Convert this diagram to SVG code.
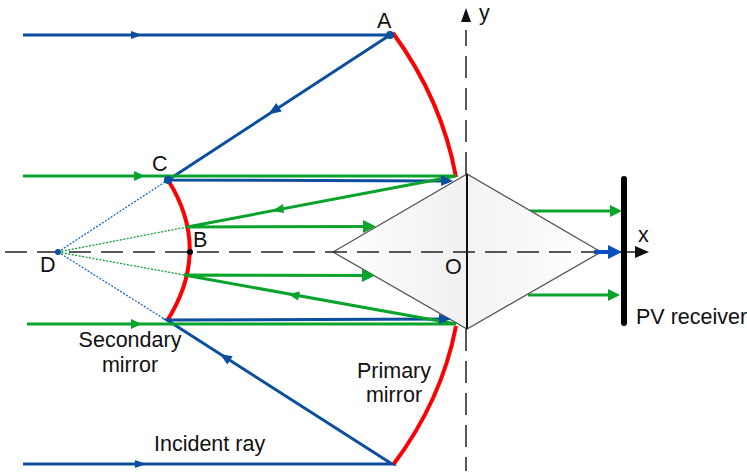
<svg xmlns="http://www.w3.org/2000/svg" width="747" height="473" viewBox="0 0 747 473">
<style>
text{font-family:"Liberation Sans",Arial,sans-serif;font-size:21.5px;fill:#111}
.axis{stroke:#222;stroke-width:1.5;fill:none;stroke-dasharray:22 10}
.blue{stroke:#0b4f9e;stroke-width:3;fill:none}
.green{stroke:#0aa32c;stroke-width:3;fill:none}
.red{stroke:#f00;stroke-width:4;fill:none}
.dotb{stroke:#1b66c4;stroke-width:1.3;stroke-dasharray:2 1.5;fill:none}
.dotg{stroke:#0aa32c;stroke-width:1.3;stroke-dasharray:2 1.5;fill:none}
.ah-b{fill:#0b4f9e}
.ah-g{fill:#0aa32c}
</style>
<defs>
<linearGradient id="lg" x1="0" x2="1" y1="0" y2="0"><stop offset="0" stop-color="#fff"/><stop offset="0.5" stop-color="#f0f0f0"/><stop offset="0.5" stop-color="#f3f3f3"/><stop offset="1" stop-color="#fff"/></linearGradient>
</defs>
<g id="primary-mirror"><path class="red" d="M393 33Q442 100 456 177"/><path class="red" d="M456 326Q442 400 393 465"/></g>
<g id="secondary-mirror"><path class="red" d="M168 180Q212 250 167 321"/></g>
<g id="connectors">
<path class="dotb" d="M58 252L168 180M58 252L166 320"/>
<path class="dotg" d="M58 252L187 227M58 252L184 275"/>
<path class="blue" d="M23 35H390L168 180L445 181"/>
<path class="blue" d="M23 464H392L167 320L445 319"/>
<path class="green" d="M23 176H456L187 227L372 226.500"/>
<path class="green" d="M27 324H456L184 275L370 275.500"/>
<path class="green" d="M530 211H618"/>
<path class="green" d="M528 295H616"/>
</g>
<g id="prism"><path d="M333 252L467 174L601 252L467 329Z" fill="url(#lg)" stroke="#555" stroke-width="1.3"/><path d="M467 174V329" stroke="#111" stroke-width="2"/></g>
<g id="axes">
<path class="axis" d="M5 252H640"/>
<path class="axis" d="M466 174V30"/>
<path class="axis" d="M466 329V471"/>
<path d="M466 8L461 22H471Z" fill="#111"/>
<path d="M649 252L635 246V258Z" fill="#111"/>
</g>
<g id="arrowheads">
<path class="ah-b" d="M142 35L131 31V39Z"/>
<path class="ah-b" d="M268 114.500L281.700 111.500L276.300 103.100Z"/>
<path class="ah-b" d="M453 181L441 175V186Z"/>
<path class="ah-b" d="M451 319L439 314V324Z"/>
<path class="ah-b" d="M220 354L232.700 356.200L227.300 364.600Z"/>
<path class="ah-b" d="M146 464L135 460V468Z"/>
<path class="ah-g" d="M145 176L134 171V181Z"/>
<path class="ah-g" d="M142 324L131 319V329Z"/>
<path class="ah-g" d="M272 211L283 204L284 213Z"/>
<path class="ah-g" d="M288 294L300 291.500L298 300.500Z"/>
<path class="ah-g" d="M376 226.500L363 220V233Z"/>
<path class="ah-g" d="M375 275.500L362 269V282Z"/>
<path class="ah-g" d="M622 211L610 205V217Z"/>
<path class="ah-g" d="M620 295L608 289V301Z"/>
<path d="M622 252L608 245V259Z" fill="#0b4fc0"/>
<path d="M594 252H610" stroke="#0b4fc0" stroke-width="4"/>
</g>
<g id="receiver"><path d="M624 179V323" stroke="#000" stroke-width="6" stroke-linecap="round"/></g>
<g id="points">
<circle cx="390" cy="35" r="4" fill="#0b4f9e"/>
<circle cx="168" cy="180" r="4" fill="#0b4f9e"/>
<circle cx="58" cy="252" r="3" fill="#0b4f9e"/>
<circle cx="190" cy="252" r="3" fill="#000"/>
</g>
<g id="labels">
<text x="377" y="28">A</text>
<text x="152" y="171">C</text>
<text x="193" y="247">B</text>
<text x="40" y="272">D</text>
<text x="445" y="274">O</text>
<text x="479" y="20">y</text>
<text x="638" y="242">x</text>
<text x="636" y="324">PV receiver</text>
<text x="130" y="347" text-anchor="middle">Secondary</text>
<text x="130" y="372" text-anchor="middle">mirror</text>
<text x="394" y="378" text-anchor="middle">Primary</text>
<text x="394" y="402" text-anchor="middle">mirror</text>
<text x="154" y="451">Incident ray</text>
</g>
</svg>
